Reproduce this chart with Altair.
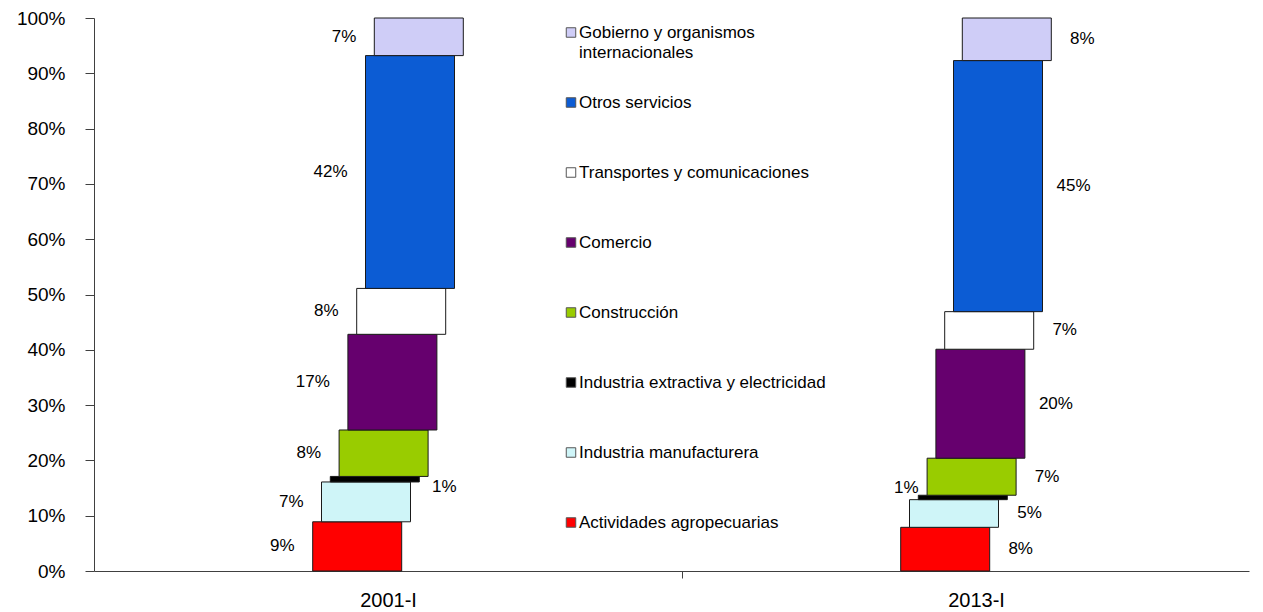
import altair as alt
import pandas as pd

periods = ["2001-I", "2013-I"]
sectors = [
    "Actividades agropecuarias",
    "Industria manufacturera",
    "Industria extractiva y electricidad",
    "Construcción",
    "Comercio",
    "Transportes y comunicaciones",
    "Otros servicios",
    "Gobierno y organismos internacionales",
]
legend_labels = [
    "Actividades agropecuarias",
    "Industria manufacturera",
    "Industria extractiva y electricidad",
    "Construcción",
    "Comercio",
    "Transportes y comunicaciones",
    "Otros servicios",
    "Gobierno y organismos\ninternacionales",
]
values_2001 = [8.9, 7.2, 1.0, 8.4, 17.3, 8.3, 42.1, 6.8]
values_2013 = [7.9, 5.0, 0.8, 6.7, 19.7, 6.8, 45.4, 7.7]
label_side_2001 = ["L", "L", "R", "L", "L", "L", "L", "L"]
label_side_2013 = ["R", "R", "L", "R", "R", "R", "R", "R"]
colors = ["#FF0000", "#CFF5F8", "#000000", "#99CC00", "#66006E", "#FFFFFF", "#0C5CD4", "#CFCDF7"]

rows = []
for p_idx, (per, vals, sides) in enumerate(
    [(periods[0], values_2001, label_side_2001), (periods[1], values_2013, label_side_2013)]
):
    for s_idx, (sec, v, sd) in enumerate(zip(sectors, vals, sides)):
        rows.append({"period": per, "p_idx": p_idx, "seg": s_idx, "sector": sec, "value": v, "side": sd})
df = pd.DataFrame(rows)

leg_df = pd.DataFrame({
    "sector": sectors,
    "legend_label": legend_labels,
    "row": [len(sectors) - 1 - i for i in range(len(sectors))],
})

FONT = "Liberation Sans"
H = 553
STEP = 8.8 / 588
BW = 89 / 588
XMAX = 1155 / 588
# legend rows: first at 14.5 px below plot top, 70 px apart
LEG_TOP = 14.5
LEG_STEP = 70.0

xscale = alt.Scale(domain=[0, XMAX], nice=False, zero=False)
yscale = alt.Scale(domain=[0, 100], nice=False)
cscale = alt.Scale(domain=sectors, range=colors)

label_expr = " : ".join(
    [f"datum.value == {i + 0.5} ? '{p}'" for i, p in enumerate(periods)]
) + " : ''"

xaxis = alt.Axis(
    values=[0.5, 1, 1.5],
    labelExpr=label_expr,
    title=None,
    grid=False,
    tickSize=7,
    labelPadding=12,
    labelFont=FONT,
    labelFontSize=20,
    labelColor="black",
    domainColor="#404040",
    tickColor={"condition": {"test": "datum.value == 1", "value": "#404040"}, "value": "transparent"},
)
yaxis = alt.Axis(
    values=list(range(0, 101, 10)),
    labelExpr="datum.value + '%'",
    title=None,
    grid=False,
    tickSize=9,
    labelPadding=20,
    labelFont=FONT,
    labelFontSize=19,
    labelColor="black",
    domainColor="#404040",
    tickColor="#404040",
)

base = alt.Chart(df).transform_window(
    cum="sum(value)", groupby=["period"], sort=[alt.SortField("seg")], frame=[None, 0]
).transform_calculate(
    y0="datum.cum - datum.value",
    mid="datum.cum - datum.value / 2",
    xc=f"datum.p_idx + 0.5 + (datum.seg - 3.5) * {STEP}",
).transform_calculate(
    xl=f"datum.xc - {BW / 2}",
    xr=f"datum.xc + {BW / 2}",
    label="format(datum.value, '.0f') + '%'",
)

bars = base.mark_rect(stroke="#1a1a1a", strokeWidth=1).encode(
    x=alt.X("xl:Q", scale=xscale, axis=xaxis),
    x2="xr:Q",
    y=alt.Y("y0:Q", scale=yscale, axis=yaxis),
    y2="cum:Q",
    color=alt.Color("sector:N", scale=cscale, legend=None),
)

small = "datum.sector == 'Industria extractiva y electricidad'"

txt_left = base.mark_text(align="right", baseline="middle", dx=-18, font=FONT, fontSize=17, color="black").encode(
    x=alt.X("xl:Q", scale=xscale), y=alt.Y("mid:Q", scale=yscale), text="label:N"
).transform_filter(f"datum.side == 'L' && !({small})")

txt_right = base.mark_text(align="center", baseline="middle", dx=31, font=FONT, fontSize=17, color="black").encode(
    x=alt.X("xr:Q", scale=xscale), y=alt.Y("mid:Q", scale=yscale), text="label:N"
).transform_filter(f"datum.side == 'R' && !({small})")

txt_small_r = base.mark_text(align="center", baseline="middle", dx=25, dy=8, font=FONT, fontSize=17, color="black").encode(
    x=alt.X("xr:Q", scale=xscale), y=alt.Y("mid:Q", scale=yscale), text="label:N"
).transform_filter(f"datum.side == 'R' && ({small})")

txt_small_l = base.mark_text(align="center", baseline="middle", dx=-12, dy=-9, font=FONT, fontSize=17, color="black").encode(
    x=alt.X("xl:Q", scale=xscale), y=alt.Y("mid:Q", scale=yscale), text="label:N"
).transform_filter(f"datum.side == 'L' && ({small})")

main = alt.layer(bars, txt_left, txt_right, txt_small_r, txt_small_l)

leg_y = alt.Y(
    "row:Q",
    scale=alt.Scale(domain=[-LEG_TOP / LEG_STEP, (H - LEG_TOP) / LEG_STEP], reverse=True, nice=False, zero=False),
    axis=None,
)
leg_sq = alt.Chart(leg_df).mark_square(size=90, filled=True, opacity=1, stroke="#555555", strokeWidth=1).encode(
    x=alt.value(477),
    y=leg_y,
    color=alt.Color("sector:N", scale=cscale, legend=None),
)
leg_tx = alt.Chart(leg_df).mark_text(
    align="left", baseline="middle", lineBreak="\n", lineHeight=20, font=FONT, fontSize=17, color="black"
).encode(
    x=alt.value(485),
    y=leg_y,
    text="legend_label:N",
)
legend = alt.layer(leg_sq, leg_tx)

chart = alt.layer(main, legend).resolve_scale(y="independent").properties(
    width=1155,
    height=H,
    padding={"left": 86, "top": 10, "right": 5, "bottom": 38},
    autosize=alt.AutoSizeParams(type="none"),
    background="white",
).configure_view(stroke=None)

chart.save("out.html", embed_options={"renderer": "svg", "actions": False})
